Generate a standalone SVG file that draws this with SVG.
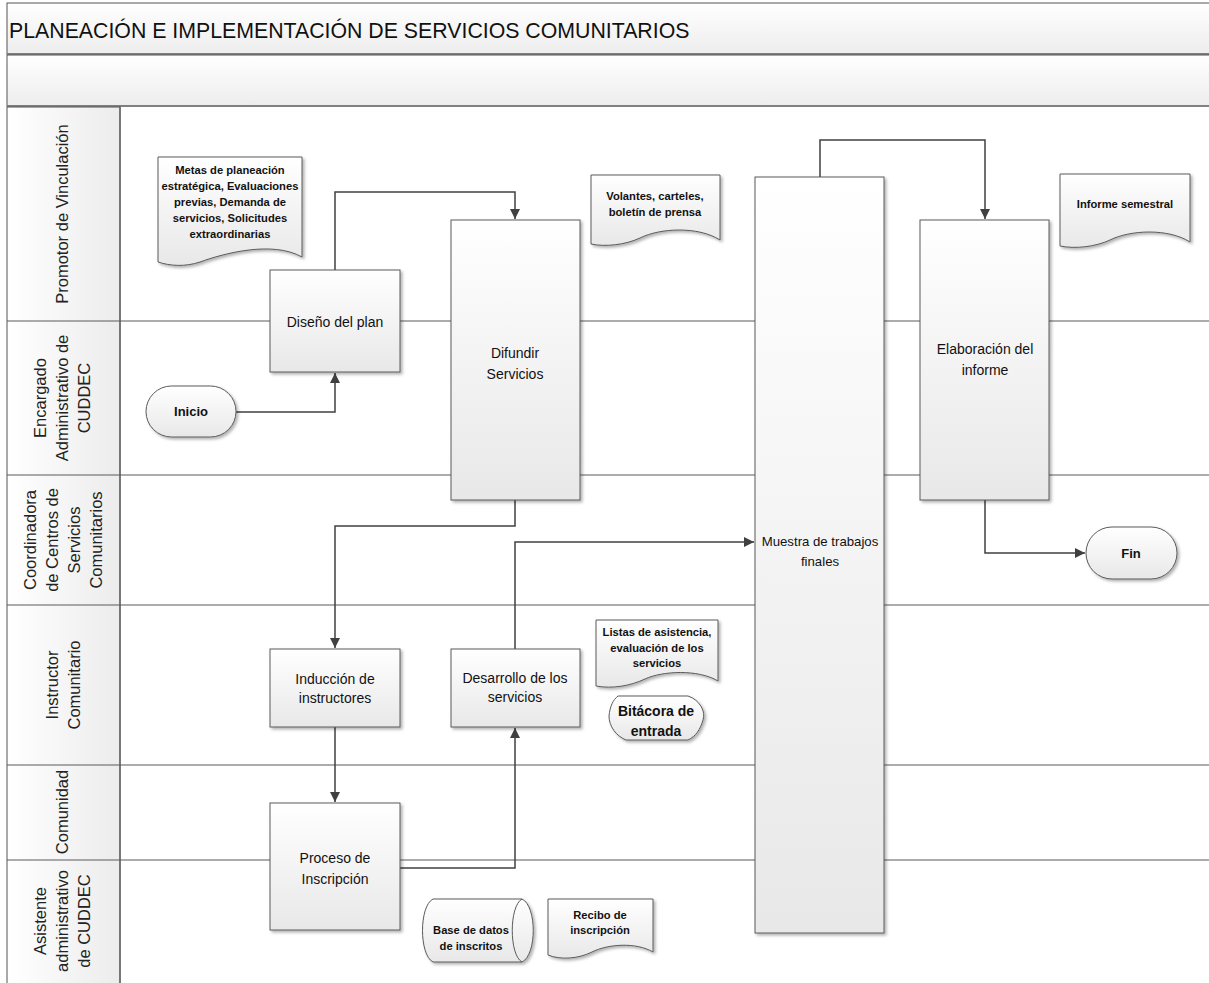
<svg xmlns="http://www.w3.org/2000/svg" width="1209" height="983" viewBox="0 0 1209 983">
<defs>
<linearGradient id="gNode" x1="0" y1="0" x2="0" y2="1"><stop offset="0" stop-color="#ffffff"/><stop offset="1" stop-color="#e8e8e8"/></linearGradient>
<linearGradient id="gBar" x1="0" y1="0" x2="0" y2="1"><stop offset="0" stop-color="#ffffff"/><stop offset="1" stop-color="#ededed"/></linearGradient>
<linearGradient id="gLane" x1="0" y1="0" x2="1" y2="0"><stop offset="0" stop-color="#ffffff"/><stop offset="1" stop-color="#ececec"/></linearGradient>
<filter id="sh" x="-10%" y="-10%" width="130%" height="130%"><feDropShadow dx="2" dy="2" stdDeviation="1.5" flood-color="#000" flood-opacity="0.3"/></filter>
<marker id="arr" viewBox="0 0 10 10" refX="10" refY="5" markerWidth="10" markerHeight="10" markerUnits="userSpaceOnUse" orient="auto"><path d="M0,0 L10,5 L0,10 Z" fill="#404040"/></marker>
<style>
.node{fill:url(#gNode);stroke:#5a5a5a;stroke-width:1;filter:url(#sh)}
.lbl{font-family:"Liberation Sans",Arial,sans-serif;font-size:14px;fill:#111;text-anchor:middle}
.doc{font-family:"Liberation Sans",Arial,sans-serif;font-size:11.2px;font-weight:bold;fill:#111;text-anchor:middle}
.term{font-family:"Liberation Sans",Arial,sans-serif;font-size:13px;font-weight:bold;fill:#111;text-anchor:middle}
.lane{font-family:"Liberation Sans",Arial,sans-serif;font-size:16.5px;fill:#222;text-anchor:middle}
.conn{fill:none;stroke:#404040;stroke-width:1.5}
.ll{stroke:#5a5a5a;stroke-width:1.2}
</style>
</defs>
<rect x="0" y="0" width="1209" height="983" fill="#ffffff"/>
<g id="pool">
<rect x="7" y="3" width="1210" height="51" fill="url(#gBar)" stroke="#555" stroke-width="1"/>
<line x1="7" y1="54" x2="1209" y2="54" stroke="#808080" stroke-width="2"/>
<rect x="7" y="55" width="1210" height="51" fill="url(#gBar)" stroke="#555" stroke-width="1"/>
<line x1="7" y1="106" x2="1209" y2="106" stroke="#808080" stroke-width="2"/>
<text x="9" y="38" font-family="'Liberation Sans',Arial,sans-serif" font-size="21.3" fill="#111">PLANEACIÓN E IMPLEMENTACIÓN DE SERVICIOS COMUNITARIOS</text>
<rect x="7" y="107" width="113" height="880" fill="url(#gLane)" stroke="#555" stroke-width="1"/>
<line class="ll" x1="7" y1="321" x2="1209" y2="321"/>
<line class="ll" x1="7" y1="475" x2="1209" y2="475"/>
<line class="ll" x1="7" y1="605" x2="1209" y2="605"/>
<line class="ll" x1="7" y1="765" x2="1209" y2="765"/>
<line class="ll" x1="7" y1="860" x2="1209" y2="860"/>
<line class="ll" x1="120" y1="107" x2="120" y2="983"/>
</g>
<g id="lanes">
<text class="lane" transform="translate(68,214) rotate(-90)">Promotor de Vinculación</text>
<text class="lane" transform="translate(46,398) rotate(-90)">Encargado</text>
<text class="lane" transform="translate(68,398) rotate(-90)">Administrativo de</text>
<text class="lane" transform="translate(90,398) rotate(-90)">CUDDEC</text>
<text class="lane" transform="translate(36,540) rotate(-90)">Coordinadora</text>
<text class="lane" transform="translate(58,540) rotate(-90)">de Centros de</text>
<text class="lane" transform="translate(80,540) rotate(-90)">Servicios</text>
<text class="lane" transform="translate(102,540) rotate(-90)">Comunitarios</text>
<text class="lane" transform="translate(58,685) rotate(-90)">Instructor</text>
<text class="lane" transform="translate(80,685) rotate(-90)">Comunitario</text>
<text class="lane" transform="translate(68,812) rotate(-90)">Comunidad</text>
<text class="lane" transform="translate(46,921) rotate(-90)">Asistente</text>
<text class="lane" transform="translate(68,921) rotate(-90)">administrativo</text>
<text class="lane" transform="translate(90,921) rotate(-90)">de CUDDEC</text>
</g>
<g id="connectors">
<path class="conn" d="M236,412 H335 V373" marker-end="url(#arr)"/>
<path class="conn" d="M335,270 V192 H515 V219" marker-end="url(#arr)"/>
<path class="conn" d="M515,500 V526 H335 V648" marker-end="url(#arr)"/>
<path class="conn" d="M335,727 V802" marker-end="url(#arr)"/>
<path class="conn" d="M400,868 H515 V728" marker-end="url(#arr)"/>
<path class="conn" d="M515,649 V542 H754" marker-end="url(#arr)"/>
<path class="conn" d="M820,177 V140 H985 V219" marker-end="url(#arr)"/>
<path class="conn" d="M985,500 V553 H1085" marker-end="url(#arr)"/>
</g>
<g id="n-metas">
<path class="node" d="M158,157 H302 V257 C272,240 222,254 200,262 C185,267 170,266 158,262 Z"/>
<text class="doc" x="230" y="174">Metas de planeación</text>
<text class="doc" x="230" y="190">estratégica, Evaluaciones</text>
<text class="doc" x="230" y="206">previas, Demanda de</text>
<text class="doc" x="230" y="222">servicios, Solicitudes</text>
<text class="doc" x="230" y="238">extraordinarias</text>
</g>
<g id="n-diseno">
<rect class="node" x="270" y="270" width="130" height="102"/>
<text class="lbl" x="335" y="327">Diseño del plan</text>
</g>
<g id="n-inicio">
<rect class="node" x="146" y="386" width="90" height="51" rx="25.5"/>
<text class="term" x="191" y="416">Inicio</text>
</g>
<g id="n-difundir">
<rect class="node" x="451" y="220" width="129" height="280"/>
<text class="lbl" x="515" y="358">Difundir</text>
<text class="lbl" x="515" y="379">Servicios</text>
</g>
<g id="n-volantes">
<path class="node" d="M591,175 H720 V240 C698,226 660,228 640,238 C625,245 605,247 591,244 Z"/>
<text class="doc" x="655" y="200">Volantes, carteles,</text>
<text class="doc" x="655" y="216">boletín de prensa</text>
</g>
<g id="n-muestra">
<rect class="node" x="755" y="177" width="129" height="756"/>
<text class="lbl" x="820" y="546" style="font-size:13.2px">Muestra de trabajos</text>
<text class="lbl" x="820" y="566" style="font-size:13.2px">finales</text>
</g>
<g id="n-elaboracion">
<rect class="node" x="920" y="220" width="129" height="280"/>
<text class="lbl" x="985" y="354">Elaboración del</text>
<text class="lbl" x="985" y="375">informe</text>
</g>
<g id="n-informe">
<path class="node" d="M1060,174 H1190 V242 C1168,228 1130,230 1110,240 C1095,247 1075,249 1060,246 Z"/>
<text class="doc" x="1125" y="208">Informe semestral</text>
</g>
<g id="n-fin">
<rect class="node" x="1086" y="527" width="91" height="52" rx="26"/>
<text class="term" x="1131" y="558">Fin</text>
</g>
<g id="n-induccion">
<rect class="node" x="270" y="649" width="130" height="78"/>
<text class="lbl" x="335" y="684">Inducción de</text>
<text class="lbl" x="335" y="703">instructores</text>
</g>
<g id="n-desarrollo">
<rect class="node" x="451" y="649" width="129" height="78"/>
<text class="lbl" x="515" y="683">Desarrollo de los</text>
<text class="lbl" x="515" y="702">servicios</text>
</g>
<g id="n-listas">
<path class="node" d="M596,620 H718 V681 C698,669 662,671 645,679 C630,686 612,689 596,686 Z"/>
<text class="doc" x="657" y="636">Listas de asistencia,</text>
<text class="doc" x="657" y="652">evaluación de los</text>
<text class="doc" x="657" y="667">servicios</text>
</g>
<g id="n-bitacora">
<path class="node" d="M618,696 H688 C700,700 706,712 703,720 C700,730 696,736 688,740 H626 C616,736 609,726 609,716 C610,706 613,700 618,696 Z"/>
<text class="term" x="656" y="716" style="font-size:14px">Bitácora de</text>
<text class="term" x="656" y="736" style="font-size:14px">entrada</text>
</g>
<g id="n-proceso">
<rect class="node" x="270" y="803" width="130" height="127"/>
<text class="lbl" x="335" y="863">Proceso de</text>
<text class="lbl" x="335" y="884">Inscripción</text>
</g>
<g id="n-base">
<path class="node" d="M433,899 H522 C537,906 537,955 522,962 H433 C419,955 419,906 433,899 Z"/>
<path d="M522,899 C509,906 509,955 522,962" fill="none" stroke="#5a5a5a" stroke-width="1"/>
<text class="doc" x="471" y="934">Base de datos</text>
<text class="doc" x="471" y="950">de inscritos</text>
</g>
<g id="n-recibo">
<path class="node" d="M548,899 H653 V952 C636,942 608,944 592,952 C578,959 560,960 548,955 Z"/>
<text class="doc" x="600" y="919">Recibo de</text>
<text class="doc" x="600" y="934">inscripción</text>
</g>
</svg>
